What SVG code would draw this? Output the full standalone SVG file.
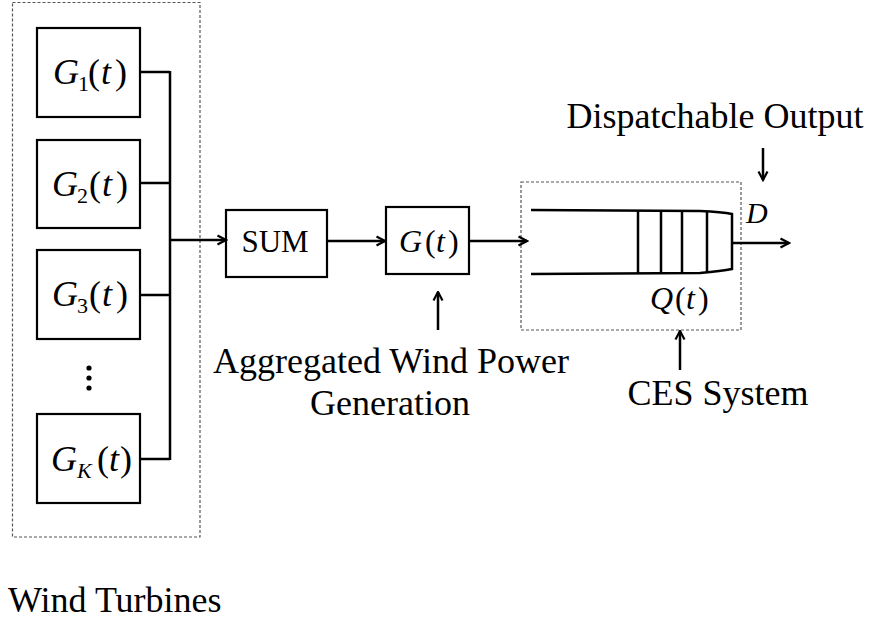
<svg xmlns="http://www.w3.org/2000/svg" width="873" height="619" viewBox="0 0 873 619">
<style>
.box{fill:#fff;stroke:#000;stroke-width:2.2}
.dash{fill:none;stroke:#555;stroke-width:1.2;stroke-dasharray:3 2}
.ln{fill:none;stroke:#000;stroke-width:2.5}
.arr{fill:none;stroke:#000;stroke-width:2.5;marker-end:url(#ah)}
.t{font-family:"Liberation Serif","Times New Roman",serif;fill:#000}
.big{font-size:36px}
.m{font-size:32px}
.g{font-size:36px}
.i{font-style:italic}
.sub{font-size:22px}
</style>
<defs>
<marker id="ah" viewBox="0 0 12 12" refX="10.5" refY="6" markerWidth="12" markerHeight="12" markerUnits="userSpaceOnUse" orient="auto">
<path d="M2,1.5 L10.5,6 L2,10.5" fill="none" stroke="#000" stroke-width="2.2"/>
</marker>
</defs>
<rect class="dash" x="12.5" y="2.5" width="187.5" height="534.5"/>
<rect class="dash" x="521" y="182" width="220" height="148"/>
<g id="g1">
<rect class="box" x="37" y="28" width="103" height="89"/>
<text class="t g i" x="53" y="84">G</text><text class="t sub" x="78" y="91">1</text><text class="t g" x="88" y="84">(</text><text class="t g i" x="101" y="84">t</text><text class="t g" x="115" y="84">)</text>
</g>
<g id="g2">
<rect class="box" x="37" y="140" width="103" height="88"/>
<text class="t g i" x="52" y="196">G</text><text class="t sub" x="77" y="203">2</text><text class="t g" x="89" y="196">(</text><text class="t g i" x="102" y="196">t</text><text class="t g" x="116" y="196">)</text>
</g>
<g id="g3">
<rect class="box" x="37" y="250" width="103" height="89"/>
<text class="t g i" x="52" y="306">G</text><text class="t sub" x="77" y="313">3</text><text class="t g" x="89" y="306">(</text><text class="t g i" x="102" y="306">t</text><text class="t g" x="116" y="306">)</text>
</g>
<g id="dots">
<circle cx="89" cy="368" r="2.6"/><circle cx="89" cy="378" r="2.6"/><circle cx="89" cy="388" r="2.6"/>
</g>
<g id="gk">
<rect class="box" x="37" y="414" width="103" height="89"/>
<text class="t g i" x="51" y="471">G</text><text class="t sub i" x="77" y="478">K</text><text class="t g" x="97" y="471">(</text><text class="t g i" x="109" y="471">t</text><text class="t g" x="120" y="471">)</text>
</g>
<g id="sum">
<rect class="box" x="226" y="210" width="101" height="67"/>
<text class="t" style="font-size:31px" x="275" y="252" text-anchor="middle">SUM</text>
</g>
<g id="gt">
<rect class="box" x="386" y="207" width="83" height="67"/>
<text class="t m i" x="399" y="252">G</text><text class="t m" x="425" y="252">(</text><text class="t m i" x="436" y="252">t</text><text class="t m" x="448" y="252">)</text>
</g>
<g id="ces">
<path class="ln" d="M531,210 L700,211 Q722,212 732,214 L732,269 Q722,271 700,273 L531,274"/>
<path class="ln" d="M638,211 V274 M661,211 V274 M682,211.5 V273.5 M707,212 V272.5"/>
<text class="t m i" x="650" y="309">Q</text><text class="t m" x="675" y="309">(</text><text class="t m i" x="686" y="309">t</text><text class="t m" x="698" y="309">)</text>
</g>
<g id="connectors">
<path class="ln" d="M140,72 H170 M140,183 H170 M140,295 H170 M140,459 H170 M170,71 V460"/>
<path class="arr" d="M170,240 H226"/>
<path class="arr" d="M327,241 H385"/>
<path class="arr" d="M469,241 H527"/>
<path class="arr" d="M732,243 H789"/>
<path class="arr" d="M438,330 V292"/>
<path class="arr" d="M680,370 V331"/>
<path class="arr" d="M763,148 V180"/>
</g>
<g id="labels">
<text class="t i" style="font-size:30px" x="746" y="223">D</text>
<text class="t big" x="715" y="128" text-anchor="middle">Dispatchable Output</text>
<text class="t big" x="391" y="373" text-anchor="middle">Aggregated Wind Power</text>
<text class="t big" x="390" y="415" text-anchor="middle">Generation</text>
<text class="t big" x="718" y="405" text-anchor="middle">CES System</text>
<text class="t big" x="8" y="612">Wind Turbines</text>
</g>
</svg>
